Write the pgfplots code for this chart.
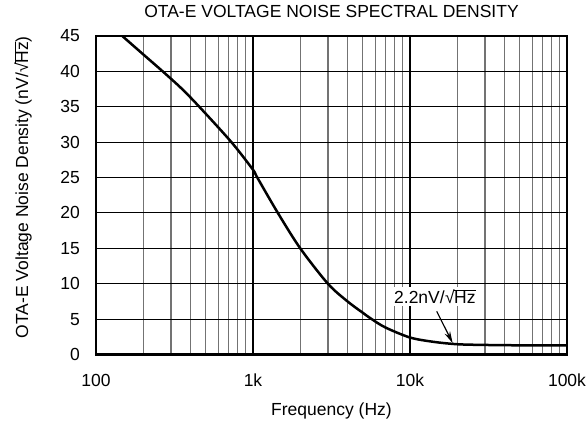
\documentclass[border=0pt]{standalone}
\usepackage{fontspec}
\setmainfont{Liberation Sans}
\usepackage{pgfplots}
\pgfplotsset{compat=1.18}
\usetikzlibrary{arrows.meta}
\newcommand\sz{\fontsize{17.5bp}{20bp}\selectfont}
\newcommand\rtHz{\kern0.3pt√\kern-0.5pt$\overline{\mbox{Hz}}$}

\begin{document}
\begin{tikzpicture}
\useasboundingbox (-96bp,-71.5bp) rectangle (491bp,354.5bp);
\begin{axis}[
  scale only axis, width=471bp, height=318.5bp,
  xmode=log, xmin=100, xmax=100000, ymin=0, ymax=45,
  xtick={100,1000,10000,100000}, xticklabels={100,1k,10k,100k},
  minor xtick={200,300,400,500,600,700,800,900,
               2000,3000,4000,5000,6000,7000,8000,9000,
               20000,30000,40000,50000,60000,70000,80000,90000},
  ytick={0,5,10,15,20,25,30,35,40,45},
  xmajorgrids, xminorgrids, ymajorgrids,
  major x grid style={black, line width=2bp},
  minor x grid style={black!55, line width=1.3bp},
  major y grid style={black, line width=1bp},
  axis line style={line width=2.5bp},
  major tick length=0pt, minor tick length=0pt,
  tick label style={font=\sz},
  /pgf/number format/assume math mode=true,
  xticklabel style={anchor=base, yshift=-32bp},
  yticklabel style={anchor=east, inner sep=0pt, xshift=-16bp},
  title={OTA-E VOLTAGE NOISE SPECTRAL DENSITY},
  title style={at={(0.5,1)}, anchor=base, yshift=13bp, font=\sz},
  xlabel={Frequency (Hz)},
  every axis x label/.style={at={(axis description cs:0.5,0)}, anchor=base, yshift=-61bp, font=\sz},
  ylabel={OTA-E Voltage Noise Density (nV/\rtHz)},
  every axis y label/.style={at={(axis description cs:-0.155,0.525)}, rotate=90, anchor=center, font=\sz},
]
% noise density
\addplot[black, line width=2.5bp, smooth] coordinates {
  (147,45) (200,42.4) (266,40) (350,37.6) (455,35) (729,30)
  (1000,26.1) (1065,25) (1440,20) (2000,15) (3000,10) (4000,7.5)
  (5000,5.9) (5700,5) (7000,3.8) (10000,2.4) (14000,1.8)
  (20000,1.45) (30000,1.35) (50000,1.3) (100000,1.3)
};
\node[fill=white, inner sep=2bp, font=\sz] at (axis cs:14400,8.2) {2.2nV/\rtHz};
\draw[line width=1.2bp, -{Stealth[length=12bp,width=6bp]}]
  (axis cs:14800,6.1) -- (axis cs:18700,1.6);
\end{axis}
\end{tikzpicture}
\end{document}
